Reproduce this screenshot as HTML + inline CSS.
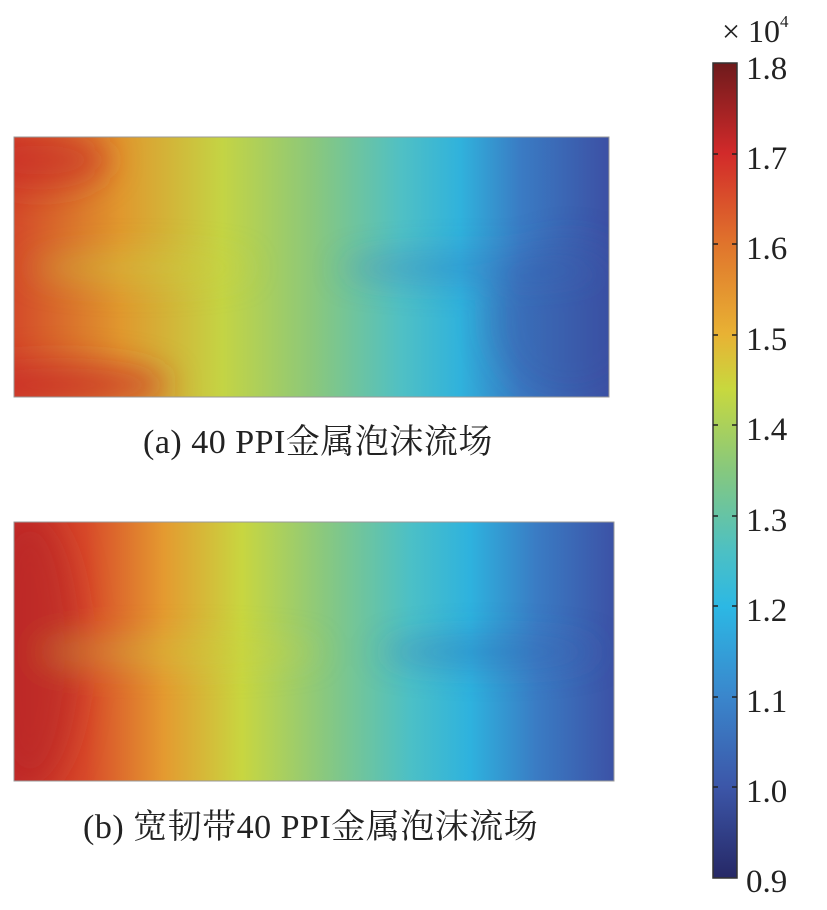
<!DOCTYPE html>
<html><head><meta charset="utf-8"><style>
body{margin:0;background:#fff;width:827px;height:910px;position:relative;overflow:hidden;font-family:"Liberation Serif","Noto Serif CJK SC",serif;color:#222}
.lbl{position:absolute;font-size:33px;left:746px}
.cap{position:absolute;font-size:34px;white-space:nowrap;letter-spacing:0.5px}
</style></head><body>
<svg width="827" height="910" style="position:absolute;left:0;top:0">
<defs>
<linearGradient id="cb" x1="0" y1="0" x2="0" y2="1">
<stop offset="0" stop-color="#6e1a1c"/><stop offset="0.111" stop-color="#d22a2a"/>
<stop offset="0.222" stop-color="#e0742c"/><stop offset="0.333" stop-color="#e8b234"/>
<stop offset="0.40" stop-color="#c8d83e"/><stop offset="0.5" stop-color="#86c87e"/>
<stop offset="0.6" stop-color="#4cc0c4"/><stop offset="0.667" stop-color="#2cb8e4"/>
<stop offset="0.778" stop-color="#3a86cc"/><stop offset="0.889" stop-color="#3c56a8"/>
<stop offset="1" stop-color="#262866"/></linearGradient>
<linearGradient id="ga" x1="0" y1="0" x2="1" y2="0">
<stop offset="0" stop-color="#d44a2a"/><stop offset="0.18" stop-color="#e0982e"/>
<stop offset="0.35" stop-color="#c4d444"/><stop offset="0.5" stop-color="#8cc87a"/>
<stop offset="0.65" stop-color="#50c0c4"/><stop offset="0.75" stop-color="#30b2dc"/>
<stop offset="0.85" stop-color="#3a7cc4"/><stop offset="1" stop-color="#3c50a4"/></linearGradient>
<linearGradient id="gb" x1="0" y1="0" x2="1" y2="0">
<stop offset="0" stop-color="#c42a28"/><stop offset="0.12" stop-color="#d84a2a"/>
<stop offset="0.25" stop-color="#e49a30"/><stop offset="0.38" stop-color="#c8d640"/>
<stop offset="0.52" stop-color="#88c880"/><stop offset="0.66" stop-color="#4cc0c6"/>
<stop offset="0.76" stop-color="#2eb2de"/><stop offset="0.87" stop-color="#3a7cc4"/>
<stop offset="1" stop-color="#3c52a6"/></linearGradient>
<filter id="bl" x="-50%" y="-50%" width="200%" height="200%"><feGaussianBlur stdDeviation="16"/></filter>
<clipPath id="ca"><rect x="14" y="137" width="595" height="260"/></clipPath>
<clipPath id="cbp"><rect x="14" y="522" width="600" height="259"/></clipPath>
</defs>
<rect x="14" y="137" width="595" height="260" fill="url(#ga)"/>
<g clip-path="url(#ca)" filter="url(#bl)">
<ellipse cx="40" cy="160" rx="70" ry="30" fill="#c82a28" opacity="0.6"/>
<ellipse cx="60" cy="385" rx="110" ry="22" fill="#c82a28" opacity="0.7"/>
<ellipse cx="140" cy="268" rx="110" ry="14" fill="#c8d040" opacity="0.45"/>
<ellipse cx="470" cy="268" rx="130" ry="14" fill="#3a70c0" opacity="0.4"/>
<ellipse cx="570" cy="320" rx="80" ry="80" fill="#3a4ea0" opacity="0.3"/>
</g>
<rect x="14" y="137" width="595" height="260" fill="none" stroke="#999" stroke-width="1"/>
<rect x="14" y="522" width="600" height="259" fill="url(#gb)"/>
<g clip-path="url(#cbp)" filter="url(#bl)">
<ellipse cx="30" cy="650" rx="50" ry="140" fill="#b82428" opacity="0.6"/>
<ellipse cx="180" cy="652" rx="140" ry="12" fill="#c8d040" opacity="0.45"/>
<ellipse cx="490" cy="652" rx="110" ry="14" fill="#3a60b0" opacity="0.4"/>
</g>
<rect x="14" y="522" width="600" height="259" fill="none" stroke="#999" stroke-width="1"/>
<rect x="713" y="63" width="24" height="815" fill="url(#cb)" stroke="#333" stroke-width="1.5"/>
<g stroke="#222" stroke-width="1.5">
<line x1="713" y1="154" x2="718" y2="154"/><line x1="732" y1="154" x2="737" y2="154"/>
<line x1="713" y1="244" x2="718" y2="244"/><line x1="732" y1="244" x2="737" y2="244"/>
<line x1="713" y1="335" x2="718" y2="335"/><line x1="732" y1="335" x2="737" y2="335"/>
<line x1="713" y1="425" x2="718" y2="425"/><line x1="732" y1="425" x2="737" y2="425"/>
<line x1="713" y1="516" x2="718" y2="516"/><line x1="732" y1="516" x2="737" y2="516"/>
<line x1="713" y1="606" x2="718" y2="606"/><line x1="732" y1="606" x2="737" y2="606"/>
<line x1="713" y1="697" x2="718" y2="697"/><line x1="732" y1="697" x2="737" y2="697"/>
<line x1="713" y1="787" x2="718" y2="787"/><line x1="732" y1="787" x2="737" y2="787"/>
</g>
</svg>
<div style="position:absolute;left:722px;top:12px;font-size:32px">× 10<sup style="font-size:17px;vertical-align:15px">4</sup></div>
<div class="lbl" style="top:51px">1.8</div>
<div class="lbl" style="top:141px">1.7</div>
<div class="lbl" style="top:231px">1.6</div>
<div class="lbl" style="top:322px">1.5</div>
<div class="lbl" style="top:412px">1.4</div>
<div class="lbl" style="top:503px">1.3</div>
<div class="lbl" style="top:593px">1.2</div>
<div class="lbl" style="top:684px">1.1</div>
<div class="lbl" style="top:774px">1.0</div>
<div class="lbl" style="top:864px">0.9</div>
<div class="cap" style="left:143px;top:414px">(a) 40 PPI金属泡沫流场</div>
<div class="cap" style="left:83px;top:799px">(b) 宽韧带40 PPI金属泡沫流场</div>
</body></html>
